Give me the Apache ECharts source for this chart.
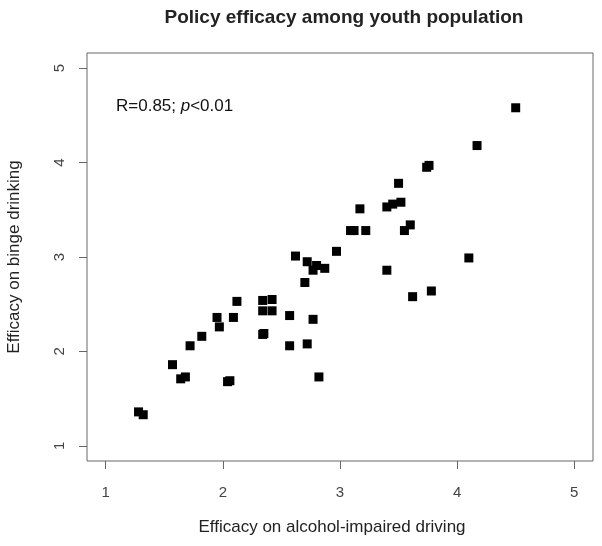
<!DOCTYPE html>
<html>
<head>
<meta charset="utf-8">
<script src="https://cdn.jsdelivr.net/npm/echarts@6/dist/echarts.min.js"></script>
<style>
  html, body { margin: 0; padding: 0; background: #fff; }
  #chart { width: 602px; height: 546px; }
</style>
</head>
<body>
<div id="chart"></div>
<script>
// values
var alcoholDriving = [1.28, 1.32, 1.57, 1.64, 1.68, 1.72, 1.82, 1.95, 1.97, 2.04, 2.06, 2.09, 2.12,
    2.34, 2.42, 2.34, 2.42, 2.34, 2.35, 2.57, 2.57, 2.72, 2.77, 2.82, 2.70, 2.62, 2.72, 2.80, 2.77,
    2.87, 2.97, 3.09, 3.12, 3.22, 3.17, 3.40, 3.45, 3.52, 3.50, 3.55, 3.60, 3.40, 3.62, 3.78,
    3.74, 3.76, 4.10, 4.17, 4.50];
var bingeDrinking = [1.36, 1.33, 1.86, 1.71, 1.73, 2.06, 2.16, 2.36, 2.26, 1.68, 1.69, 2.36, 2.53,
    2.54, 2.55, 2.43, 2.43, 2.18, 2.19, 2.38, 2.06, 2.08, 2.34, 1.73, 2.73, 3.01, 2.95, 2.91, 2.86,
    2.88, 3.06, 3.28, 3.28, 3.28, 3.51, 3.53, 3.56, 3.58, 3.78, 3.28, 3.34, 2.86, 2.58, 2.64,
    3.95, 3.97, 2.99, 4.18, 4.58];
var tickValues = [1, 2, 3, 4, 5];

var points = alcoholDriving.map(function (x, i) {
    return [x, bingeDrinking[i]];
});

var chart = echarts.init(document.getElementById('chart'));
chart.setOption({
    backgroundColor: '#fff',
    animation: false,
    title: {
        text: 'Policy efficacy among youth population',
        left: 339,
        textAlign: 'center',
        top: 3,
        textStyle: {
            fontFamily: 'Liberation Sans',
            fontWeight: 'bold',
            fontSize: 19,
            color: '#222'
        }
    },
    grid: {
        left: 87,
        right: 9,
        top: 53,
        bottom: 85,
        containLabel: false,
        outerBoundsMode: 'none',
        show: true,
        borderColor: '#666',
        borderWidth: 1
    },
    xAxis: {
        type: 'value',
        min: 0.84,
        max: 5.16,
        name: 'Efficacy on alcohol-impaired driving',
        nameLocation: 'middle',
        nameGap: 58,
        nameTextStyle: { fontFamily: 'Liberation Sans', fontSize: 17, color: '#222', padding: [0, 16, 0, 0] },
        axisLine: { show: false },
        splitLine: { show: false },
        axisTick: {
            show: true,
            length: 8,
            customValues: tickValues,
            lineStyle: { color: '#666' }
        },
        axisLabel: {
            customValues: tickValues,
            margin: 24,
            fontFamily: 'Liberation Sans',
            fontSize: 15,
            color: '#444'
        }
    },
    yAxis: {
        type: 'value',
        min: 0.84,
        max: 5.16,
        name: 'Efficacy on binge drinking',
        nameLocation: 'middle',
        nameGap: 64,
        nameRotate: 90,
        nameTextStyle: { fontFamily: 'Liberation Sans', fontSize: 17, color: '#222' },
        axisLine: { show: false },
        splitLine: { show: false },
        axisTick: {
            show: true,
            length: 8,
            customValues: tickValues,
            lineStyle: { color: '#666' }
        },
        axisLabel: {
            customValues: tickValues,
            rotate: 90,
            margin: 20,
            fontFamily: 'Liberation Sans',
            fontSize: 15,
            color: '#444'
        }
    },
    graphic: [{
        type: 'text',
        left: 116,
        top: 98,
        style: {
            text: '{n|R=0.85; }{i|p}{n|<0.01}',
            rich: {
                n: { fontFamily: 'Liberation Sans', fontSize: 17, fill: '#111' },
                i: { fontFamily: 'Liberation Sans', fontStyle: 'italic', fontSize: 17, fill: '#111' }
            }
        }
    }],
    series: [{
        type: 'scatter',
        symbol: 'rect',
        symbolSize: 9,
        itemStyle: { color: '#000', opacity: 1 },
        data: points
    }]
});
</script>
</body>
</html>
